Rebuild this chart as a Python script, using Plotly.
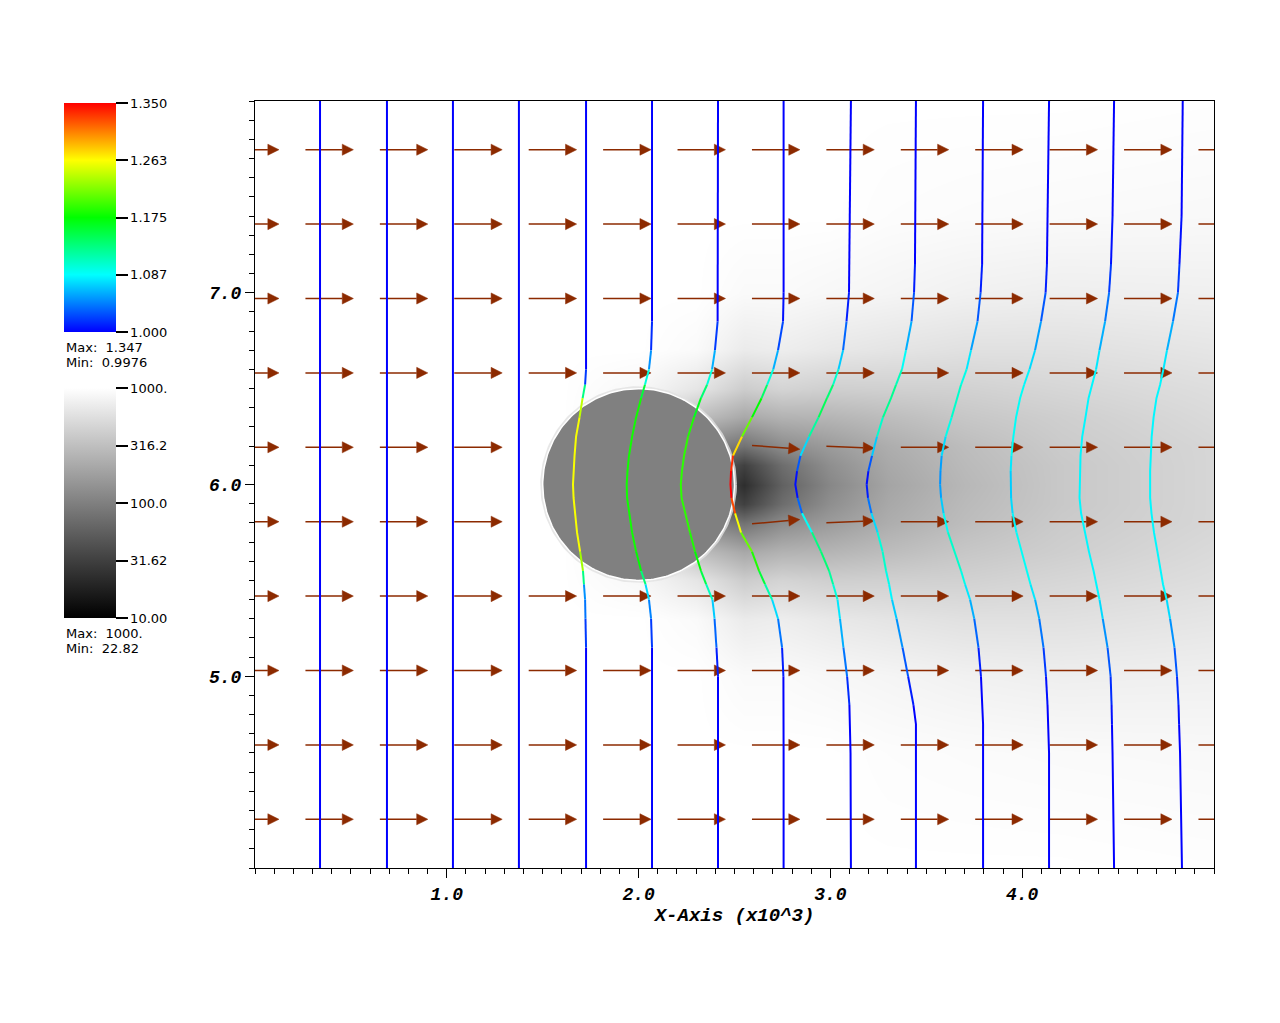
import numpy as np
import plotly.graph_objects as go

# ---------------- axes ----------------
X_RANGE = [0.0, 5.0]
Y_RANGE = [4.0, 8.0]
X_TICK_VALUES = [1.0, 2.0, 3.0, 4.0]
X_TICK_LABELS = ["1.0", "2.0", "3.0", "4.0"]
Y_TICK_VALUES = [5.0, 6.0, 7.0]
Y_TICK_LABELS = ["5.0", "6.0", "7.0"]
X_TITLE = "X-Axis (x10^3)"

# ---------------- pseudocolor field (log scale 10 .. 1000) ----------------
FIELD_X = [0.0, 1.6, 2.0, 2.3, 2.55, 2.75, 3.0, 3.3, 3.7, 4.2, 5.0]
FIELD_Y = [4.0, 4.6, 5.0, 5.3, 5.5, 5.65, 5.8, 5.9, 6.0, 6.1, 6.2, 6.35, 6.5, 6.7, 7.0, 7.4, 8.0]
FIELD_VALUES = [
    [1000, 1000, 1000, 1000, 1000, 1000, 1000, 1000, 1000, 1000, 977],
    [1000, 1000, 1000, 1000, 1000, 1000, 1000, 955, 933, 912, 891],
    [1000, 1000, 1000, 1000, 912, 912, 871, 832, 776, 741, 759],
    [1000, 1000, 1000, 912, 692, 724, 660, 617, 575, 575, 631],
    [1000, 1000, 871, 631, 398, 457, 417, 427, 437, 479, 550],
    [1000, 1000, 794, 316, 209, 251, 263, 302, 363, 417, 513],
    [1000, 1000, 692, 126, 79, 126, 166, 229, 302, 389, 479],
    [1000, 1000, 631, 79, 32, 72, 132, 209, 288, 372, 479],
    [1000, 1000, 631, 63, 23, 58, 115, 195, 275, 372, 479],
    [1000, 1000, 631, 79, 32, 72, 132, 209, 288, 372, 479],
    [1000, 1000, 692, 126, 79, 126, 166, 229, 302, 389, 479],
    [1000, 1000, 794, 316, 209, 251, 263, 302, 363, 417, 513],
    [1000, 1000, 871, 631, 398, 457, 417, 427, 437, 479, 550],
    [1000, 1000, 1000, 912, 692, 724, 660, 617, 575, 575, 631],
    [1000, 1000, 1000, 1000, 912, 912, 871, 832, 776, 741, 759],
    [1000, 1000, 1000, 1000, 1000, 1000, 1000, 955, 933, 912, 891],
    [1000, 1000, 1000, 1000, 1000, 1000, 1000, 1000, 1000, 1000, 977],
]
FIELD_TICK_VALUES = [10.0, 31.62, 100.0, 316.2, 1000.0]
FIELD_TICK_LABELS = ["10.00", "31.62", "100.0", "316.2", "1000."]
FIELD_MAX_LABEL = "Max:  1000."
FIELD_MIN_LABEL = "Min:  22.82"

# ---------------- obstacle ----------------
OBSTACLE_CENTER = (2.0, 6.0)
OBSTACLE_RADIUS = 0.5

# ---------------- contour lines (coloured by second variable) ----------------
CONTOUR_Y = [8.00, 7.40, 7.15, 7.00, 6.85, 6.70, 6.60, 6.52, 6.45, 6.35, 6.25, 6.15, 6.07, 6.00,
             5.93, 5.85, 5.75, 5.65, 5.55, 5.48, 5.40, 5.30, 5.15, 5.00, 4.85, 4.75, 4.60, 4.00]
STRAIGHT_CONTOUR_X = [0.339, 0.688, 1.032, 1.376]
STRAIGHT_CONTOUR_C = [1.0, 1.0, 1.0, 1.0]
CONTOUR_X = [
    [1.726, 1.726, 1.726, 1.726, 1.726, 1.726, 1.726, 1.721, 1.708, 1.692, 1.674, 1.666, 1.662, 1.658,
     1.661, 1.668, 1.679, 1.695, 1.710, 1.715, 1.721, 1.723, 1.726, 1.726, 1.726, 1.726, 1.726, 1.726],
    [2.070, 2.070, 2.070, 2.070, 2.070, 2.065, 2.054, 2.033, 2.013, 1.987, 1.966, 1.950, 1.942, 1.938,
     1.940, 1.950, 1.966, 1.987, 2.013, 2.036, 2.054, 2.065, 2.070, 2.070, 2.070, 2.070, 2.070, 2.070],
    [2.414, 2.414, 2.414, 2.414, 2.412, 2.398, 2.383, 2.357, 2.325, 2.289, 2.258, 2.237, 2.226, 2.220,
     2.224, 2.242, 2.268, 2.294, 2.325, 2.352, 2.385, 2.396, 2.406, 2.414, 2.414, 2.414, 2.414, 2.414],
    [2.756, 2.756, 2.756, 2.756, 2.753, 2.727, 2.702, 2.670, 2.641, 2.591, 2.539, 2.492, 2.482, 2.479,
     2.484, 2.503, 2.534, 2.591, 2.628, 2.659, 2.696, 2.727, 2.748, 2.755, 2.756, 2.756, 2.756, 2.756],
    [3.107, 3.102, 3.100, 3.097, 3.084, 3.066, 3.042, 3.014, 2.982, 2.938, 2.889, 2.844, 2.826, 2.817,
     2.829, 2.852, 2.904, 2.951, 2.993, 3.014, 3.037, 3.050, 3.068, 3.087, 3.099, 3.102, 3.105, 3.107],
    [3.446, 3.444, 3.441, 3.436, 3.423, 3.394, 3.373, 3.342, 3.316, 3.274, 3.243, 3.217, 3.198, 3.189,
     3.196, 3.214, 3.246, 3.272, 3.290, 3.306, 3.321, 3.345, 3.376, 3.405, 3.433, 3.446, 3.446, 3.446],
    [3.796, 3.793, 3.791, 3.783, 3.767, 3.733, 3.710, 3.681, 3.660, 3.632, 3.601, 3.580, 3.574, 3.572,
     3.577, 3.590, 3.613, 3.647, 3.681, 3.702, 3.728, 3.750, 3.772, 3.785, 3.791, 3.796, 3.796, 3.796],
    [4.140, 4.135, 4.129, 4.122, 4.098, 4.067, 4.038, 4.010, 3.989, 3.968, 3.954, 3.944, 3.940, 3.940,
     3.942, 3.950, 3.970, 3.997, 4.025, 4.043, 4.067, 4.089, 4.111, 4.124, 4.132, 4.135, 4.140, 4.140],
    [4.479, 4.471, 4.463, 4.453, 4.432, 4.403, 4.385, 4.364, 4.346, 4.330, 4.313, 4.304, 4.301, 4.298,
     4.299, 4.307, 4.327, 4.348, 4.372, 4.385, 4.403, 4.420, 4.445, 4.461, 4.466, 4.468, 4.471, 4.479],
    [4.837, 4.831, 4.820, 4.812, 4.786, 4.755, 4.736, 4.719, 4.700, 4.685, 4.675, 4.669, 4.667, 4.667,
     4.667, 4.674, 4.687, 4.705, 4.721, 4.734, 4.753, 4.771, 4.794, 4.807, 4.815, 4.818, 4.823, 4.833],
]
CONTOUR_C = [
    [1, 1, 1, 1, 1, 1, 1, 1.04, 1.22, 1.26, 1.26, 1.26, 1.26, 1.26,
     1.26, 1.26, 1.26, 1.26, 1.20, 1.06, 1.04, 1.035, 1.0, 1, 1, 1, 1, 1],
    [1, 1, 1, 1, 1, 1.03, 1.07, 1.13, 1.18, 1.18, 1.18, 1.18, 1.18, 1.18,
     1.18, 1.18, 1.18, 1.18, 1.17, 1.10, 1.05, 1.04, 1.0, 1, 1, 1, 1, 1],
    [1, 1, 1, 1, 1.0, 1.04, 1.08, 1.12, 1.15, 1.18, 1.19, 1.19, 1.19, 1.19,
     1.19, 1.19, 1.19, 1.18, 1.17, 1.13, 1.09, 1.05, 1.02, 1.0, 1, 1, 1, 1],
    [1, 1, 1, 1, 1.01, 1.04, 1.08, 1.12, 1.16, 1.19, 1.23, 1.32, 1.35, 1.35,
     1.35, 1.30, 1.22, 1.20, 1.17, 1.14, 1.09, 1.06, 1.02, 1.0, 1, 1, 1, 1],
    [1, 1, 1, 1, 1.02, 1.05, 1.09, 1.12, 1.15, 1.14, 1.10, 1.05, 1.01, 1.0,
     1.01, 1.06, 1.12, 1.14, 1.13, 1.11, 1.09, 1.07, 1.05, 1.03, 1.0, 1, 1, 1],
    [1, 1, 1, 1.02, 1.04, 1.08, 1.10, 1.12, 1.13, 1.12, 1.09, 1.05, 1.01, 1.0,
     1.02, 1.06, 1.09, 1.11, 1.10, 1.09, 1.08, 1.06, 1.04, 1.02, 1.0, 1, 1, 1],
    [1, 1, 1, 1.02, 1.04, 1.07, 1.09, 1.10, 1.11, 1.10, 1.09, 1.06, 1.05, 1.05,
     1.06, 1.08, 1.10, 1.11, 1.10, 1.09, 1.07, 1.05, 1.02, 1.0, 1, 1, 1, 1],
    [1, 1, 1, 1.02, 1.04, 1.07, 1.08, 1.09, 1.09, 1.09, 1.09, 1.09, 1.07, 1.07,
     1.07, 1.08, 1.09, 1.09, 1.09, 1.09, 1.07, 1.05, 1.03, 1.01, 1.0, 1, 1, 1],
    [1, 1, 1.01, 1.03, 1.05, 1.07, 1.085, 1.085, 1.085, 1.085, 1.085, 1.085, 1.085, 1.085,
     1.085, 1.085, 1.085, 1.085, 1.085, 1.085, 1.085, 1.06, 1.04, 1.02, 1.01, 1.0, 1, 1],
    [1, 1, 1.01, 1.03, 1.05, 1.07, 1.085, 1.085, 1.085, 1.085, 1.085, 1.085, 1.085, 1.085,
     1.085, 1.085, 1.085, 1.085, 1.085, 1.085, 1.085, 1.06, 1.04, 1.02, 1.01, 1.0, 1, 1],
]
C_MIN, C_MAX = 1.0, 1.35
C_TICK_VALUES = [1.0, 1.0875, 1.175, 1.2625, 1.35]
C_TICK_LABELS = ["1.000", "1.087", "1.175", "1.263", "1.350"]
C_MAX_LABEL = "Max:  1.347"
C_MIN_LABEL = "Min:  0.9976"

# ---------------- vector glyphs ----------------
ARROW_X = [0.000, 0.388, 0.776, 1.164, 1.552, 1.940, 2.328, 2.716, 3.104, 3.492, 3.880, 4.268, 4.656, 5.044]
ARROW_Y = [4.254, 4.642, 5.030, 5.418, 5.806, 6.194, 6.582, 6.970, 7.358, 7.746]
ARROW_V = [  # vertical component relative to a unit horizontal component
    [0] * 14,
    [0] * 14,
    [0] * 14,
    [0] * 14,
    [0, 0, 0, 0, 0, 0, 0, 0.09, 0.04, 0, 0, 0, 0, 0],
    [0, 0, 0, 0, 0, 0, 0, -0.08, -0.04, 0, 0, 0, 0, 0],
    [0] * 14,
    [0] * 14,
    [0] * 14,
    [0] * 14,
]

# ---------------- styles ----------------
ARROW_COLOR = "#8c2a00"
ARROW_LEN = 0.25
HEAD_LEN = 0.058
HEAD_HALF = 0.029
RAINBOW = [[0.0, "#0000ff"], [0.25, "#00ffff"], [0.5, "#00ff00"], [0.75, "#ffff00"], [1.0, "#ff0000"]]
GRAY = [[0.0, "#000000"], [1.0, "#ffffff"]]

# page offset of the figure (body margin) and the plot box in page pixels
OFF = 8
W, H = 1280 - 2 * OFF, 1023 - 2 * OFF
BOX_L, BOX_R, BOX_T, BOX_B = 255, 1214, 101, 868
L, T = BOX_L - OFF, BOX_T - OFF
R, B = W - (BOX_R - OFF), H - (BOX_B - OFF)
PW, PH = BOX_R - BOX_L, BOX_B - BOX_T


def paper_x(px):
    return (px - BOX_L) / PW


def paper_y(py):
    return 1 - (py - BOX_T) / PH


def rainbow_hex(v):
    t = float(np.clip((v - C_MIN) / (C_MAX - C_MIN), 0, 1))
    stops = [s for s, _ in RAINBOW]
    r = np.interp(t, stops, [0, 0, 0, 255, 255])
    g = np.interp(t, stops, [0, 255, 255, 255, 0])
    b = np.interp(t, stops, [255, 255, 0, 0, 0])
    return "#%02x%02x%02x" % (int(round(r)), int(round(g)), int(round(b)))


fig = go.Figure()

# field
fig.add_trace(go.Heatmap(
    x=FIELD_X, y=FIELD_Y, z=np.log10(np.array(FIELD_VALUES, dtype=float)),
    zmin=1, zmax=3, colorscale=GRAY, zsmooth="best", hoverinfo="skip",
    colorbar=dict(
        thicknessmode="pixels", thickness=52, lenmode="pixels", len=230,
        x=paper_x(64), xanchor="left", y=paper_y(388), yanchor="top",
        xpad=0, ypad=0, outlinewidth=0, ticks="outside", ticklen=12, tickwidth=1.5,
        tickcolor="black", tickvals=list(np.log10(FIELD_TICK_VALUES)), ticktext=FIELD_TICK_LABELS,
        tickfont=dict(family="DejaVu Sans", size=13, color="black"),
    ),
))

# arrows
cx0, cy0 = OBSTACLE_CENTER
sx, sy, hx, hy = [], [], [], []
for j, yc in enumerate(ARROW_Y):
    for k, xc in enumerate(ARROW_X):
        if np.hypot(xc - cx0, yc - cy0) < OBSTACLE_RADIUS:
            continue
        u, v = 1.0, ARROW_V[j][k]
        n = np.hypot(u, v)
        ux, uy = u / n, v / n
        tx, ty = xc - ux * ARROW_LEN / 2, yc - uy * ARROW_LEN / 2
        px_, py_ = xc + ux * ARROW_LEN / 2, yc + uy * ARROW_LEN / 2
        bx, by = px_ - ux * HEAD_LEN, py_ - uy * HEAD_LEN
        sx += [tx, bx, None]
        sy += [ty, by, None]
        hx += [bx - uy * HEAD_HALF, px_, bx + uy * HEAD_HALF, bx - uy * HEAD_HALF, None]
        hy += [by + ux * HEAD_HALF, py_, by - ux * HEAD_HALF, by + ux * HEAD_HALF, None]

fig.add_trace(go.Scatter(x=sx, y=sy, mode="lines", line=dict(color=ARROW_COLOR, width=1.5),
                         hoverinfo="skip", showlegend=False))
fig.add_trace(go.Scatter(x=hx, y=hy, mode="lines", fill="toself", fillcolor=ARROW_COLOR,
                         line=dict(color=ARROW_COLOR, width=0.5), hoverinfo="skip", showlegend=False))

# obstacle
theta = np.linspace(0, 2 * np.pi, 241)
ox = cx0 + OBSTACLE_RADIUS * np.cos(theta)
oy = cy0 + OBSTACLE_RADIUS * np.sin(theta)
fig.add_trace(go.Scatter(x=ox, y=oy, mode="lines", line=dict(color="rgba(225,225,225,0.8)", width=5),
                         hoverinfo="skip", showlegend=False))
fig.add_trace(go.Scatter(x=ox, y=oy, mode="lines", fill="toself", fillcolor="#808080",
                         line=dict(color="white", width=1.5), hoverinfo="skip", showlegend=False))

# contour lines, segment-coloured
all_lines = []
for xs0, c0 in zip(STRAIGHT_CONTOUR_X, STRAIGHT_CONTOUR_C):
    all_lines.append(([xs0, xs0], [Y_RANGE[1], Y_RANGE[0]], [c0, c0]))
for xs, cs in zip(CONTOUR_X, CONTOUR_C):
    all_lines.append((xs, CONTOUR_Y, cs))

STEP = 0.005
bins = {}
for xs, ys, cs in all_lines:
    cur_bin, poly_x, poly_y = None, [], []
    for i in range(len(xs) - 1):
        b = int(round(((cs[i] + cs[i + 1]) / 2 - C_MIN) / STEP))
        if b != cur_bin:
            if cur_bin is not None:
                bx_, by_ = bins.setdefault(cur_bin, ([], []))
                bx_ += poly_x + [None]
                by_ += poly_y + [None]
            cur_bin, poly_x, poly_y = b, [xs[i]], [ys[i]]
        poly_x.append(xs[i + 1])
        poly_y.append(ys[i + 1])
    bx_, by_ = bins.setdefault(cur_bin, ([], []))
    bx_ += poly_x + [None]
    by_ += poly_y + [None]

for b, (bx_, by_) in sorted(bins.items()):
    fig.add_trace(go.Scatter(x=bx_, y=by_, mode="lines",
                             line=dict(color=rainbow_hex(C_MIN + b * STEP), width=2),
                             hoverinfo="skip", showlegend=False))

# colour bar for contour colouring
all_x = [x for xs, ys, cs in all_lines for x in xs]
all_y = [y for xs, ys, cs in all_lines for y in ys]
all_c = [c for xs, ys, cs in all_lines for c in cs]
fig.add_trace(go.Scatter(
    x=all_x, y=all_y, mode="markers", hoverinfo="skip", showlegend=False,
    marker=dict(size=1, opacity=0, color=all_c, colorscale=RAINBOW, cmin=C_MIN, cmax=C_MAX,
                showscale=True,
                colorbar=dict(
                    thicknessmode="pixels", thickness=52, lenmode="pixels", len=229,
                    x=paper_x(64), xanchor="left", y=paper_y(103), yanchor="top",
                    xpad=0, ypad=0, outlinewidth=0, ticks="outside", ticklen=12, tickwidth=1.5,
                    tickcolor="black", tickvals=C_TICK_VALUES, ticktext=C_TICK_LABELS,
                    tickfont=dict(family="DejaVu Sans", size=13, color="black"),
                )),
))

axis_font = dict(family="Liberation Mono", size=18, color="black", weight="bold", style="italic")
common_axis = dict(
    showgrid=False, zeroline=False, showline=True, linecolor="black", linewidth=1, mirror=True,
    ticks="outside", ticklen=9, tickwidth=1, tickcolor="black", tickfont=axis_font,
    minor=dict(ticks="outside", ticklen=5, tickwidth=1, tickcolor="black", tickmode="linear",
               tick0=0, dtick=0.1, showgrid=False),
)

annotations = []
for txt, py in [(C_MAX_LABEL, 347), (C_MIN_LABEL, 362), (FIELD_MAX_LABEL, 633), (FIELD_MIN_LABEL, 648)]:
    annotations.append(dict(text=txt, x=paper_x(64), y=paper_y(py), xref="paper", yref="paper",
                            xanchor="left", yanchor="middle", showarrow=False,
                            font=dict(family="DejaVu Sans", size=13, color="black")))

fig.update_layout(
    width=W, height=H, margin=dict(l=L, r=R, t=T, b=B, pad=0),
    paper_bgcolor="white", plot_bgcolor="white", showlegend=False,
    xaxis=dict(range=X_RANGE, tickmode="array", tickvals=X_TICK_VALUES, ticktext=X_TICK_LABELS,
               title=dict(text=X_TITLE, font=dict(family="Liberation Mono", size=19, color="black",
                                                   weight="bold", style="italic"), standoff=0),
               **common_axis),
    yaxis=dict(range=Y_RANGE, tickmode="array", tickvals=Y_TICK_VALUES, ticktext=Y_TICK_LABELS,
               **common_axis),
    annotations=annotations,
)

fig.write_html("out.html")
